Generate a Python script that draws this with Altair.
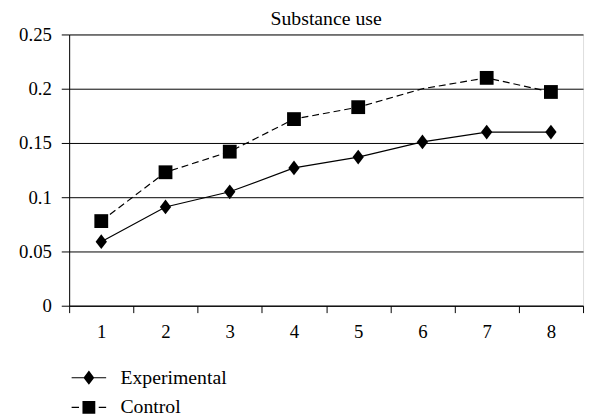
import altair as alt
import pandas as pd

categories = [1, 2, 3, 4, 5, 6, 7, 8]
experimental = [0.059, 0.091, 0.105, 0.127, 0.137, 0.151, 0.160, 0.160]
control = [0.078, 0.123, 0.142, 0.172, 0.183, 0.200, 0.210, 0.197]
control_marker = [1, 1, 1, 1, 1, 0, 1, 1]
series_names = ["Experimental", "Control"]
y_ticks = [0, 0.05, 0.1, 0.15, 0.2, 0.25]
x_ticks = [0.5, 1, 1.5, 2, 2.5, 3, 3.5, 4, 4.5, 5, 5.5, 6, 6.5, 7, 7.5, 8, 8.5]
title_text = "Substance use"

rows = []
for c, e, k, m in zip(categories, experimental, control, control_marker):
    rows.append({"cat": c, "series": "Experimental", "value": e, "marker": 1})
    rows.append({"cat": c, "series": "Control", "value": k, "marker": m})
df = pd.DataFrame(rows)

FONT = "Liberation Serif"
FS = 19

x_enc = alt.X(
    "cat:Q",
    scale=alt.Scale(domain=[0.5, 8.5], nice=False, zero=False),
    axis=alt.Axis(
        values=x_ticks,
        title=None,
        grid=False,
        domainColor="black",
        tickColor="black",
        tickSize=7,
        tickOpacity={"condition": {"test": "datum.value % 1 === 0", "value": 0}, "value": 1},
        labelExpr="datum.value % 1 === 0 ? format(datum.value, 'd') : ''",
        labelOverlap=False,
        labelFont=FONT,
        labelFontSize=FS,
        labelColor="black",
        labelPadding=10,
    ),
)
y_enc = alt.Y(
    "value:Q",
    scale=alt.Scale(domain=[0, 0.25], nice=False),
    axis=alt.Axis(
        values=y_ticks,
        format="~g",
        title=None,
        grid=True,
        gridColor="black",
        gridWidth=1,
        domainColor="black",
        tickColor="black",
        tickSize=8,
        labelFont=FONT,
        labelFontSize=FS,
        labelColor="black",
        labelPadding=10,
    ),
)

base = alt.Chart(df)

exp_line = base.transform_filter(alt.datum.series == "Experimental").mark_line(
    color="black", strokeWidth=1.2
).encode(x=x_enc, y=y_enc)

ctrl_line = base.transform_filter(alt.datum.series == "Control").mark_line(
    color="black", strokeWidth=1.2, strokeDash=[7, 4]
).encode(x=x_enc, y=y_enc)

diamond = "M-1,0L0,-1.3L1,0L0,1.3Z"
exp_pts = base.transform_filter(alt.datum.series == "Experimental").mark_point(
    shape=diamond, filled=True, color="black", size=132, opacity=1
).encode(x=x_enc, y=y_enc)

ctrl_pts = base.transform_filter(
    (alt.datum.series == "Control") & (alt.datum.marker == 1)
).mark_point(shape="square", filled=True, color="black", size=196, opacity=1).encode(
    x=x_enc, y=y_enc
)

# legend glyphs: line segments drawn as thin filled bars plus the marker
leg_exp = (
    "M-1.75,-0.06H1.75V0.06H-1.75Z"
    "M-0.55,0L0,-0.72L0.55,0L0,0.72Z"
)
leg_ctrl = (
    "M-1.75,-0.06H-1.0V0.06H-1.75Z"
    "M1.0,-0.06H1.75V0.06H1.0Z"
    "M-0.65,-0.65H0.65V0.65H-0.65Z"
)

legend_layer = base.mark_point(filled=True, color="black", opacity=0).encode(
    x=x_enc,
    y=y_enc,
    shape=alt.Shape(
        "series:N",
        scale=alt.Scale(domain=series_names, range=[leg_exp, leg_ctrl]),
        legend=alt.Legend(
            title=None,
            orient="none",
            legendX=9,
            legendY=337,
            direction="vertical",
            symbolSize=400,
            symbolFillColor="black",
            symbolStrokeColor="black",
            symbolOpacity=1,
            labelFont=FONT,
            labelFontSize=FS + 1,
            labelColor="black",
            labelOffset=21,
            rowPadding=8,
            labelLimit=300,
        ),
    ),
)

chart = (
    alt.layer(exp_line, ctrl_line, exp_pts, ctrl_pts, legend_layer)
    .properties(
        width=521,
        height=275,
        title=alt.TitleParams(
            title_text,
            font=FONT,
            fontSize=20,
            fontWeight="normal",
            color="black",
            anchor="middle",
            frame="group",
            offset=10,
            dy=13,
        ),
        autosize=alt.AutoSizeParams(type="none"),
        padding={"left": 62, "top": 24, "right": 3, "bottom": 111},
    )
    .configure_view(stroke="black", strokeWidth=1)
    .configure(background="white")
)

chart.save("out.html", embed_options={"renderer": "svg", "actions": False})
